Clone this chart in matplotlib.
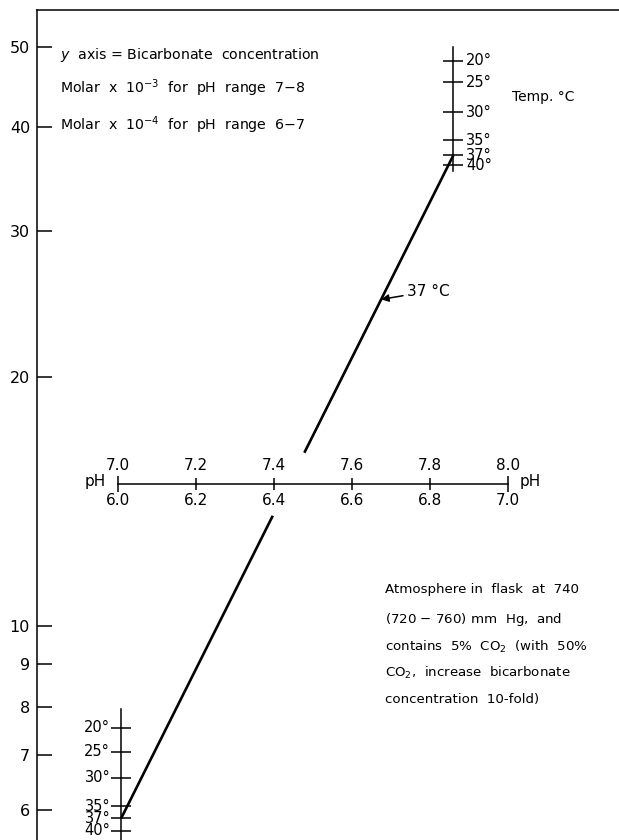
import numpy as np
import matplotlib
matplotlib.use("Agg")
import matplotlib.pyplot as plt

plt.rcParams['font.family'] = ['DejaVu Sans']
plt.rcParams['mathtext.fontset'] = 'dejavusans'

# ---- data -------------------------------------------------------------
y_ticks = [6, 7, 8, 9, 10, 20, 30, 40, 50]
ph_ticks = [7.0, 7.2, 7.4, 7.6, 7.8, 8.0]
ph_upper_labels = ["7.0", "7.2", "7.4", "7.6", "7.8", "8.0"]
ph_lower_labels = ["6.0", "6.2", "6.4", "6.6", "6.8", "7.0"]

temps = [20, 25, 30, 35, 37, 40]
temp_labels = ["20°", "25°", "30°", "35°", "37°", "40°"]
# bicarbonate read on each temperature scale
top_scale_values = [48.1, 45.3, 41.7, 38.6, 37.0, 36.0]
bottom_scale_values = [7.55, 7.06, 6.57, 6.07, 5.87, 5.67]
top_scale_ph = 7.86
bottom_scale_ph = 7.008
top_scale_span = [50.0, 35.4]
bottom_scale_span = [7.96, 5.0]

# 37 °C line: from the 37° mark on the lower scale to the 37° mark on the upper one
line_ph = [bottom_scale_ph, top_scale_ph]
line_val = [bottom_scale_values[4], top_scale_values[4]]
line_gap = [13.6, 16.2]       # break where the line crosses the pH scale
arrow_value = 24.8

# ---- figure -----------------------------------------------------------
W, H = 619, 840
fig = plt.figure(figsize=(W / 100, H / 100), dpi=100)
left_px, top_px = 37, 10
ax = fig.add_axes([left_px / W, 0, (W - left_px) / W, (H - top_px) / H])
ax.set_yscale('log')
ax.set_ylim(5.526, 55.4)
ax.set_xlim(6.792, 8.285)

for s in ('right', 'bottom'):
    ax.spines[s].set_visible(False)
for s in ('left', 'top'):
    ax.spines[s].set_linewidth(1.1)

ax.set_yticks(y_ticks)
ax.set_yticklabels([str(v) for v in y_ticks])
ax.minorticks_off()
ax.tick_params(axis='y', direction='in', length=11, width=1.1, labelsize=11.5, pad=5)
ax.set_xticks([])

# ---- pH scale ---------------------------------------------------------
ph_level = 14.87
ax.plot([ph_ticks[0], ph_ticks[-1]], [ph_level, ph_level], color='black', lw=1.1)
ax.plot(ph_ticks[1:-1], [ph_level] * (len(ph_ticks) - 2), ls='none', marker='|',
        ms=9, mew=1.1, color='black')
ax.plot([ph_ticks[0], ph_ticks[-1]], [ph_level] * 2, ls='none', marker='|',
        ms=12, mew=1.1, color='black')
for x, up, lo in zip(ph_ticks, ph_upper_labels, ph_lower_labels):
    ax.annotate(up, (x, ph_level), xytext=(0, 11), textcoords='offset pixels',
                ha='center', va='bottom', fontsize=11)
    ax.annotate(lo, (x, ph_level), xytext=(0, -9), textcoords='offset pixels',
                ha='center', va='top', fontsize=11)
ax.annotate("pH", (ph_ticks[0], ph_level), xytext=(-12, 2), textcoords='offset pixels',
            ha='right', va='center', fontsize=11)
ax.annotate("pH", (ph_ticks[-1], ph_level), xytext=(12, 2), textcoords='offset pixels',
            ha='left', va='center', fontsize=11)

# ---- temperature scales -----------------------------------------------
ax.plot([top_scale_ph] * 2, top_scale_span, color='black', lw=1.1)
ax.plot([top_scale_ph] * len(temps), top_scale_values, ls='none', marker='_',
        ms=14, mew=1.1, color='black')
for v, lab in zip(top_scale_values, temp_labels):
    ax.annotate(lab, (top_scale_ph, v), xytext=(13, 0), textcoords='offset pixels',
                ha='left', va='center', fontsize=10.5, linespacing=0.9)
ax.annotate("Temp. °C", (top_scale_ph, 43.5), xytext=(59, 0), textcoords='offset pixels',
            ha='left', va='center', fontsize=10)

ax.plot([bottom_scale_ph] * 2, bottom_scale_span, color='black', lw=1.1)
ax.plot([bottom_scale_ph] * len(temps), bottom_scale_values, ls='none', marker='_',
        ms=14, mew=1.1, color='black')
for v, lab in zip(bottom_scale_values, temp_labels):
    ax.annotate(lab, (bottom_scale_ph, v), xytext=(-11, 0), textcoords='offset pixels',
                ha='right', va='center', fontsize=10.5)

# ---- the 37 °C line ---------------------------------------------------
lx0, lx1 = line_ph
ly0, ly1 = np.log10(line_val)


def ph_at(value):
    t = (np.log10(value) - ly0) / (ly1 - ly0)
    return lx0 + t * (lx1 - lx0)


ax.plot([lx0, ph_at(line_gap[0])], [line_val[0], line_gap[0]], color='black', lw=1.9,
        solid_capstyle='butt')
ax.plot([ph_at(line_gap[1]), lx1], [line_gap[1], line_val[1]], color='black', lw=1.9,
        solid_capstyle='butt')

ax.annotate("37 °C", (ph_at(arrow_value), arrow_value), xytext=(26, 8),
            textcoords='offset pixels', ha='left', va='center', fontsize=11,
            arrowprops=dict(arrowstyle='-|>', color='black', lw=1.1,
                            mutation_scale=11, shrinkA=1, shrinkB=0))

# ---- notes ------------------------------------------------------------
note_kw = dict(fontsize=10.2, ha='left', va='center')
fig.text(60 / W, 1 - 55 / H, "$y$  axis = Bicarbonate  concentration", **note_kw)
fig.text(60 / W, 1 - 88 / H, "Molar  x  10$^{-3}$  for  pH  range  7$-$8", **note_kw)
fig.text(60 / W, 1 - 125 / H, "Molar  x  10$^{-4}$  for  pH  range  6$-$7", **note_kw)

notes = ["Atmosphere in  flask  at  740",
         "(720 $-$ 760) mm  Hg,  and",
         "contains  5%  CO$_2$  (with  50%",
         "CO$_2$,  increase  bicarbonate",
         "concentration  10-fold)"]
note_y = [590, 619, 647, 673, 699]
for txt, yy in zip(notes, note_y):
    fig.text(385 / W, 1 - yy / H, txt, fontsize=9.6, ha='left', va='center')

fig.savefig("out.png", dpi=100)
